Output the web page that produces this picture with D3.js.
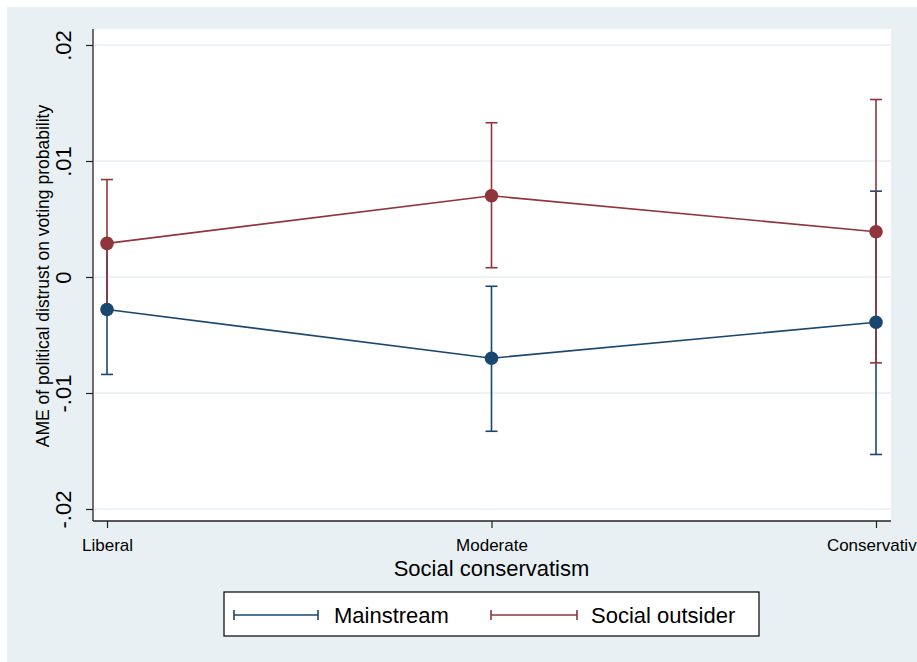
<!DOCTYPE html>
<html>
<head>
<meta charset="utf-8">
<script src="https://cdn.jsdelivr.net/npm/d3@7/dist/d3.min.js"></script>
<style>
  body { margin: 0; background: #ffffff; }
  svg { display: block; }
  text { font-family: "Liberation Sans", Arial, Helvetica, sans-serif; fill: #000; }
</style>
</head>
<body>
<svg id="chart" width="917" height="662"></svg>
<script>
// Average marginal effects by social conservatism, with 95% confidence intervals
const categories = ["Liberal", "Moderate", "Conservative"];
const seriesNames = ["Mainstream", "Social outsider"];

const mainstreamAME  = [-0.0028, -0.0070, -0.0039];
const mainstreamLow  = [-0.0084, -0.0133, -0.0153];
const mainstreamHigh = [ 0.0028, -0.0008,  0.0074];

const outsiderAME  = [0.0029, 0.0070,  0.0039];
const outsiderLow  = [-0.0026, 0.0008, -0.0074];
const outsiderHigh = [0.0084, 0.0133,  0.0153];

const yTicks = [-0.02, -0.01, 0, 0.01, 0.02];
const yTickLabels = ["-.02", "-.01", "0", ".01", ".02"];

const seriesColors = ["#1a476f", "#90353b"];

const series = [
  { name: seriesNames[0], color: seriesColors[0],
    values: categories.map((c, i) => ({ cat: c, est: mainstreamAME[i], lo: mainstreamLow[i], hi: mainstreamHigh[i] })) },
  { name: seriesNames[1], color: seriesColors[1],
    values: categories.map((c, i) => ({ cat: c, est: outsiderAME[i], lo: outsiderLow[i], hi: outsiderHigh[i] })) }
];

const W = 917, H = 662;
const svg = d3.select("#chart");

// graph region
svg.append("rect").attr("x", 7).attr("y", 7).attr("width", W - 7).attr("height", H - 7)
  .attr("fill", "#e8f0f3");

// plot region
const plot = { left: 93, right: 891, top: 29, bottom: 521 };
svg.append("rect")
  .attr("x", plot.left).attr("y", plot.top)
  .attr("width", plot.right - plot.left).attr("height", plot.bottom - plot.top)
  .attr("fill", "#ffffff");

const x = d3.scalePoint().domain(categories).range([107, 876]);
const y = d3.scaleLinear().domain([-0.02, 0.02]).range([509, 45]);

// horizontal grid
svg.append("g").selectAll("line").data(yTicks).join("line")
  .attr("x1", plot.left + 1).attr("x2", plot.right)
  .attr("y1", d => y(d)).attr("y2", d => y(d))
  .attr("stroke", "#e6eef2").attr("stroke-width", 1.6);

// y axis
const yAxis = d3.axisLeft(y).tickValues(yTicks)
  .tickFormat((d, i) => yTickLabels[i]).tickSize(7).tickSizeOuter(0);
const gy = svg.append("g").attr("transform", `translate(${plot.left},0)`).call(yAxis);
gy.select(".domain").remove();
gy.selectAll(".tick line").attr("stroke", "#222").attr("stroke-width", 1.2);
gy.selectAll(".tick text")
  .attr("x", null).attr("dy", null)
  .attr("text-anchor", "middle")
  .attr("transform", "translate(-22,0) rotate(-90)")
  .style("font-size", "22px").style("font-family", "'Liberation Sans', Arial, sans-serif")
  .attr("fill", "#000");
svg.append("line").attr("x1", plot.left).attr("x2", plot.left)
  .attr("y1", plot.top).attr("y2", plot.bottom)
  .attr("stroke", "#222").attr("stroke-width", 1.3);

// x axis
const xAxis = d3.axisBottom(x).tickSize(7).tickSizeOuter(0);
const gx = svg.append("g").attr("transform", `translate(0,${plot.bottom})`).call(xAxis);
gx.select(".domain").remove();
gx.selectAll(".tick line").attr("stroke", "#222").attr("stroke-width", 1.2);
gx.selectAll(".tick text")
  .attr("y", 30).attr("dy", null)
  .style("font-size", "17px").style("font-family", "'Liberation Sans', Arial, sans-serif")
  .attr("fill", "#000");
svg.append("line").attr("x1", plot.left).attr("x2", plot.right)
  .attr("y1", plot.bottom).attr("y2", plot.bottom)
  .attr("stroke", "#222").attr("stroke-width", 1.3);

// axis titles
svg.append("text")
  .attr("transform", `translate(49,${(plot.top + plot.bottom) / 2 + 1}) rotate(-90)`)
  .attr("text-anchor", "middle").style("font-size", "17.5px")
  .text("AME of political distrust on voting probability");
svg.append("text")
  .attr("x", 491.5).attr("y", 576).attr("text-anchor", "middle")
  .style("font-size", "22px").text("Social conservatism");

// confidence intervals (capped spikes)
const capHalf = 6;
series.forEach(s => {
  const g = svg.append("g").attr("stroke", s.color).attr("stroke-width", 1.6).attr("fill", "none");
  g.selectAll("line.ci").data(s.values).join("line").attr("class", "ci")
    .attr("x1", d => x(d.cat)).attr("x2", d => x(d.cat))
    .attr("y1", d => y(d.lo)).attr("y2", d => y(d.hi));
  g.selectAll("line.capLo").data(s.values).join("line").attr("class", "capLo")
    .attr("x1", d => x(d.cat) - capHalf).attr("x2", d => x(d.cat) + capHalf)
    .attr("y1", d => y(d.lo)).attr("y2", d => y(d.lo));
  g.selectAll("line.capHi").data(s.values).join("line").attr("class", "capHi")
    .attr("x1", d => x(d.cat) - capHalf).attr("x2", d => x(d.cat) + capHalf)
    .attr("y1", d => y(d.hi)).attr("y2", d => y(d.hi));
});

// connected point estimates
const line = d3.line().x(d => x(d.cat)).y(d => y(d.est));
series.forEach(s => {
  svg.append("path").datum(s.values)
    .attr("d", line).attr("fill", "none")
    .attr("stroke", s.color).attr("stroke-width", 1.6);
  svg.append("g").selectAll("circle").data(s.values).join("circle")
    .attr("cx", d => x(d.cat)).attr("cy", d => y(d.est)).attr("r", 6.8)
    .attr("fill", s.color);
});

// legend
const lg = svg.append("g");
lg.append("rect").attr("x", 224).attr("y", 592).attr("width", 535).attr("height", 44)
  .attr("fill", "#ffffff").attr("stroke", "#000").attr("stroke-width", 1.2);
const keys = [
  { x0: 234, x1: 318, tx: 334 },
  { x0: 491, x1: 577, tx: 591 }
];
series.forEach((s, i) => {
  const k = keys[i];
  const kg = lg.append("g").attr("stroke", s.color).attr("stroke-width", 1.6);
  kg.append("line").attr("x1", k.x0).attr("x2", k.x1).attr("y1", 615).attr("y2", 615);
  kg.append("line").attr("x1", k.x0).attr("x2", k.x0).attr("y1", 610).attr("y2", 620);
  kg.append("line").attr("x1", k.x1).attr("x2", k.x1).attr("y1", 610).attr("y2", 620);
  lg.append("text").attr("x", k.tx).attr("y", 623).style("font-size", "22px").text(s.name);
});
</script>
</body>
</html>
